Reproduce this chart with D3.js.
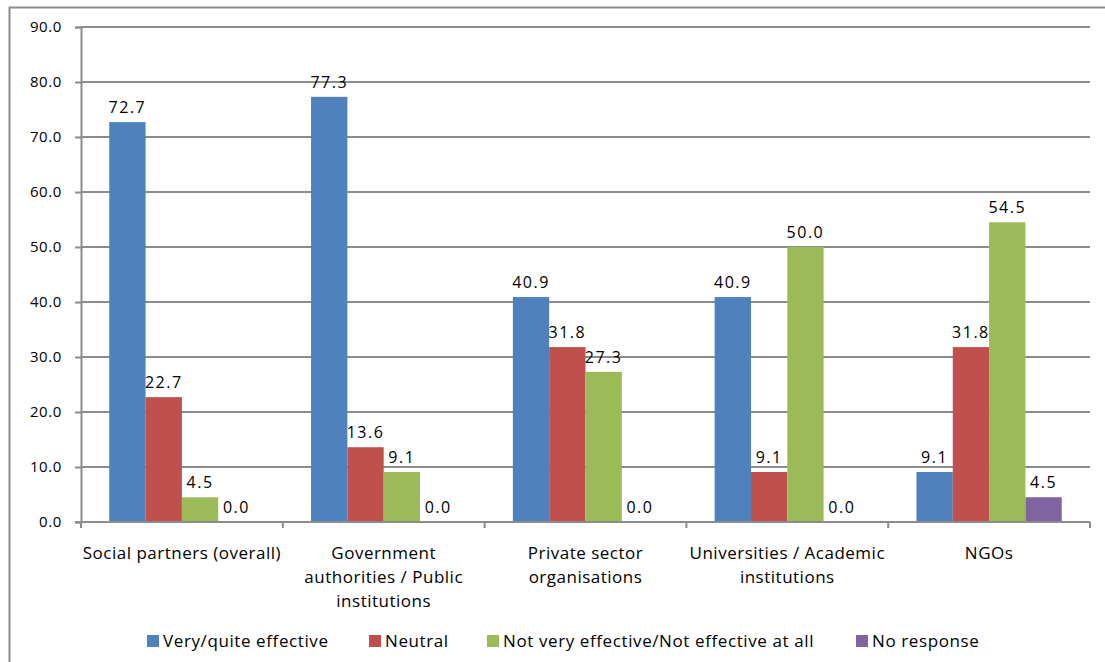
<!DOCTYPE html>
<html>
<head>
<meta charset="utf-8">
<script src="https://cdn.jsdelivr.net/npm/d3@7"></script>
<style>
  html, body { margin: 0; padding: 0; background: #fff; }
  svg { display: block; font-family: "Open Sans", sans-serif; }
</style>
</head>
<body>
<svg id="chart" width="1105" height="662"></svg>
<script>
// Stakeholder groups along the x axis
const categories = [
  ["Social partners (overall)"],
  ["Government", "authorities / Public", "institutions"],
  ["Private sector", "organisations"],
  ["Universities / Academic", "institutions"],
  ["NGOs"]
];

// Response series (percent)
const seriesNames = [
  "Very/quite effective",
  "Neutral",
  "Not very effective/Not effective at all",
  "No response"
];
const veryQuiteEffective = [72.7, 77.3, 40.9, 40.9, 9.1];
const neutral = [22.7, 13.6, 31.8, 9.1, 31.8];
const notEffective = [4.5, 9.1, 27.3, 50.0, 54.5];
const noResponse = [0.0, 0.0, 0.0, 0.0, 4.5];

const yTicks = [0, 10, 20, 30, 40, 50, 60, 70, 80, 90];
const colors = ["#4F81BD", "#C0504D", "#9BBB59", "#8064A2"];

const seriesValues = [veryQuiteEffective, neutral, notEffective, noResponse];

const svg = d3.select("#chart");
const margin = { left: 81, top: 27 };
const plotRight = 1090, plotBottom = 522;
const grey = "#8c8c8c";

// outer chart frame
svg.append("rect")
  .attr("x", 9.5).attr("y", 7.5)
  .attr("width", 1120).attr("height", 680)
  .attr("fill", "none").attr("stroke", grey).attr("stroke-width", 2);

const y = d3.scaleLinear().domain([0, 90]).range([plotBottom, margin.top]);
const x0 = d3.scaleBand().domain(d3.range(categories.length)).range([margin.left, plotRight]).padding(0);
const gap = x0.bandwidth() * 0.14;
const x1 = d3.scaleBand().domain(d3.range(seriesNames.length)).range([gap, x0.bandwidth() - gap]).padding(0);

// horizontal gridlines
svg.append("g").selectAll("line").data(yTicks.filter(d => d > 0)).join("line")
  .attr("x1", margin.left).attr("x2", plotRight)
  .attr("y1", d => y(d)).attr("y2", d => y(d))
  .attr("stroke", grey).attr("stroke-width", 2);

// y axis
const yAxis = svg.append("g").attr("transform", `translate(${margin.left},0)`)
  .call(d3.axisLeft(y).tickValues(yTicks).tickFormat(d3.format(".1f")).tickSize(6).tickPadding(13));
yAxis.select(".domain").attr("stroke", grey).attr("stroke-width", 2);
yAxis.selectAll(".tick line").attr("stroke", grey).attr("stroke-width", 2);
yAxis.selectAll(".tick text").attr("font-size", 15).attr("fill", "#000")
  .attr("font-family", "'Open Sans', sans-serif").attr("letter-spacing", 0.6);

// bars with value labels
const groups = svg.append("g").selectAll("g").data(categories).join("g")
  .attr("transform", (d, i) => `translate(${x0(i)},0)`);

groups.each(function (c, ci) {
  const g = d3.select(this);
  seriesValues.forEach((vals, si) => {
    const v = vals[ci];
    g.append("rect")
      .attr("x", x1(si)).attr("width", x1.bandwidth())
      .attr("y", y(v)).attr("height", plotBottom - y(v))
      .attr("fill", colors[si]);
    g.append("text")
      .attr("x", x1(si) + x1.bandwidth() / 2)
      .attr("y", y(v) - 9)
      .attr("text-anchor", "middle")
      .attr("font-size", 16)
      .attr("letter-spacing", 1.5)
      .attr("fill", "#000")
      .text(d3.format(".1f")(v));
  });
});

// x axis
const xAxis = svg.append("g").attr("transform", `translate(0,${plotBottom})`);
xAxis.append("line").attr("x1", margin.left - 6).attr("x2", plotRight)
  .attr("stroke", grey).attr("stroke-width", 2);
const xTickPos = d3.range(categories.length + 1).map(i => i < categories.length ? x0(i) : plotRight);
xAxis.selectAll("line.tick").data(xTickPos).join("line").attr("class", "tick")
  .attr("x1", d => d).attr("x2", d => d).attr("y1", 0).attr("y2", 6)
  .attr("stroke", grey).attr("stroke-width", 2);

// category labels (multi-line)
categories.forEach((lines, i) => {
  const cx = x0(i) + x0.bandwidth() / 2;
  const t = svg.append("text")
    .attr("x", cx)
    .attr("y", 559)
    .attr("text-anchor", "middle")
    .attr("font-size", 17)
    .attr("letter-spacing", 0.5)
    .attr("fill", "#000");
  lines.forEach((ln, k) => {
    t.append("tspan").attr("x", cx).attr("dy", k === 0 ? 0 : 24).text(ln);
  });
});

// legend
const legendX = [147, 369, 487, 856];
const legend = svg.append("g").selectAll("g").data(seriesNames).join("g")
  .attr("transform", (d, i) => `translate(${legendX[i]},635)`);
legend.append("rect").attr("width", 12).attr("height", 12).attr("fill", (d, i) => colors[i]);
legend.append("text").attr("x", 16).attr("y", 12).attr("font-size", 17)
  .attr("letter-spacing", 0.6).attr("fill", "#000").text(d => d);
</script>
</body>
</html>
